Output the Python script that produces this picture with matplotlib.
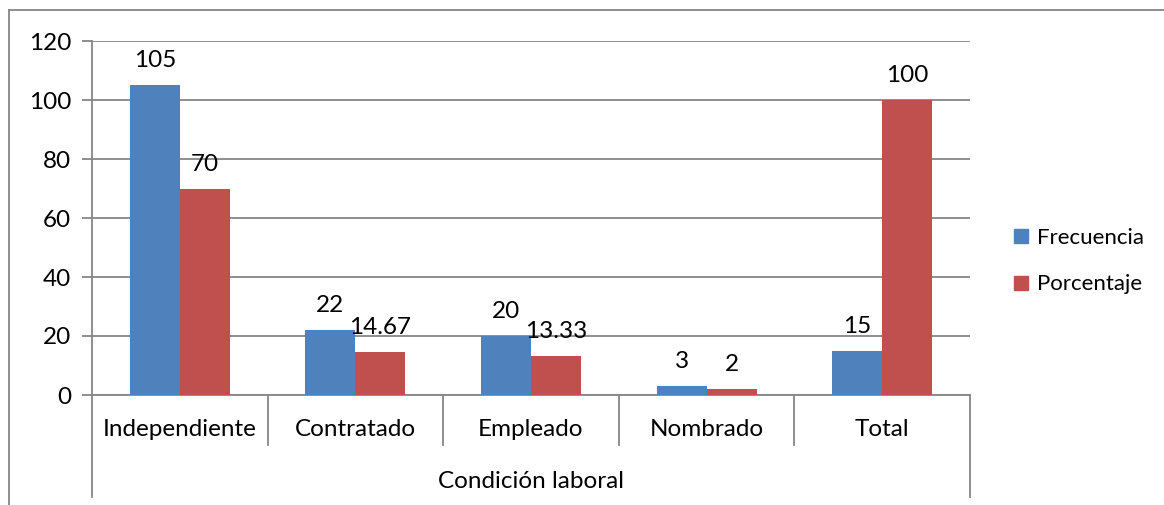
import matplotlib
matplotlib.use('Agg')
import numpy as np
import matplotlib.pyplot as plt
from matplotlib.lines import Line2D
from matplotlib.transforms import blended_transform_factory

plt.rcParams['font.family'] = ['Lato', 'DejaVu Sans']

categorias = ['Independiente', 'Contratado', 'Empleado', 'Nombrado', 'Total']
frecuencia = [105, 22, 20, 3, 15]
porcentaje = [70, 14.67, 13.33, 2, 100]
etiq_frec = ['105', '22', '20', '3', '15']
etiq_porc = ['70', '14.67', '13.33', '2', '100']
titulo_x = 'Condición laboral'

azul = '#4F81BD'
rojo = '#C0504D'
gris = '#868686'
fs = 17.5

W, H = 1164, 505
fig = plt.figure(figsize=(W / 100, H / 100), dpi=100)
ax = fig.add_axes([92 / W, 1 - 395 / H, (970 - 92) / W, (395 - 41) / H])

x = np.arange(len(categorias))
w = 0.285
b1 = ax.bar(x - w / 2, frecuencia, w, color=azul, zorder=3)
b2 = ax.bar(x + w / 2, porcentaje, w, color=rojo, zorder=3)

for bars, labs in [(b1, etiq_frec), (b2, etiq_porc)]:
    for r, t in zip(bars, labs):
        ax.annotate(t, (r.get_x() + r.get_width() / 2, r.get_height()),
                    xytext=(0, 10), textcoords='offset points',
                    ha='center', va='bottom', fontsize=fs, zorder=4)

ax.set_xlim(-0.5, len(categorias) - 0.5)
ax.set_ylim(0, 120)
ax.set_yticks(np.arange(0, 121, 20))
ax.yaxis.grid(True, color=gris, lw=1.3, zorder=0)
ax.set_xticks([])
ax.tick_params(axis='y', direction='out', length=7, width=1.3, color=gris,
               labelsize=fs, pad=8)
for s in ['top', 'right']:
    ax.spines[s].set_visible(False)
ax.spines['left'].set_color(gris)
ax.spines['bottom'].set_color(gris)
ax.spines['left'].set_linewidth(1.3)
ax.spines['bottom'].set_linewidth(1.3)

trans = blended_transform_factory(ax.transData, ax.transAxes)
ph = 395 - 41
y_short = -(445 - 395) / ph
y_long = -(497 - 395) / ph
for i in range(len(categorias) + 1):
    xb = i - 0.5
    yb = y_long if i in (0, len(categorias)) else y_short
    ax.plot([xb, xb], [0, yb], transform=trans, color=gris, lw=1.3,
            clip_on=False)
for i, c in enumerate(categorias):
    ax.text(i, -(430 - 395) / ph, c, transform=trans, ha='center',
            va='center', fontsize=fs)
ax.text(0.5, -(481 - 395) / ph, titulo_x, transform=ax.transAxes,
        ha='center', va='center', fontsize=fs)

# marco exterior
fig.add_artist(Line2D([9 / W, 9 / W], [0, 1 - 10 / H], color=gris, lw=1.3))
fig.add_artist(Line2D([9 / W, 1], [1 - 10 / H, 1 - 10 / H], color=gris, lw=1.3))

handles = [Line2D([], [], marker='s', ls='', color=azul, markersize=10),
           Line2D([], [], marker='s', ls='', color=rojo, markersize=10)]
fig.legend(handles, ['Frecuencia', 'Porcentaje'], loc='center left',
           bbox_to_anchor=(998 / W, 1 - 261 / H), frameon=False,
           fontsize=16, handlelength=0.7, handletextpad=0.35,
           labelspacing=1.2, borderpad=0.2)

fig.savefig('out.png', dpi=100)
